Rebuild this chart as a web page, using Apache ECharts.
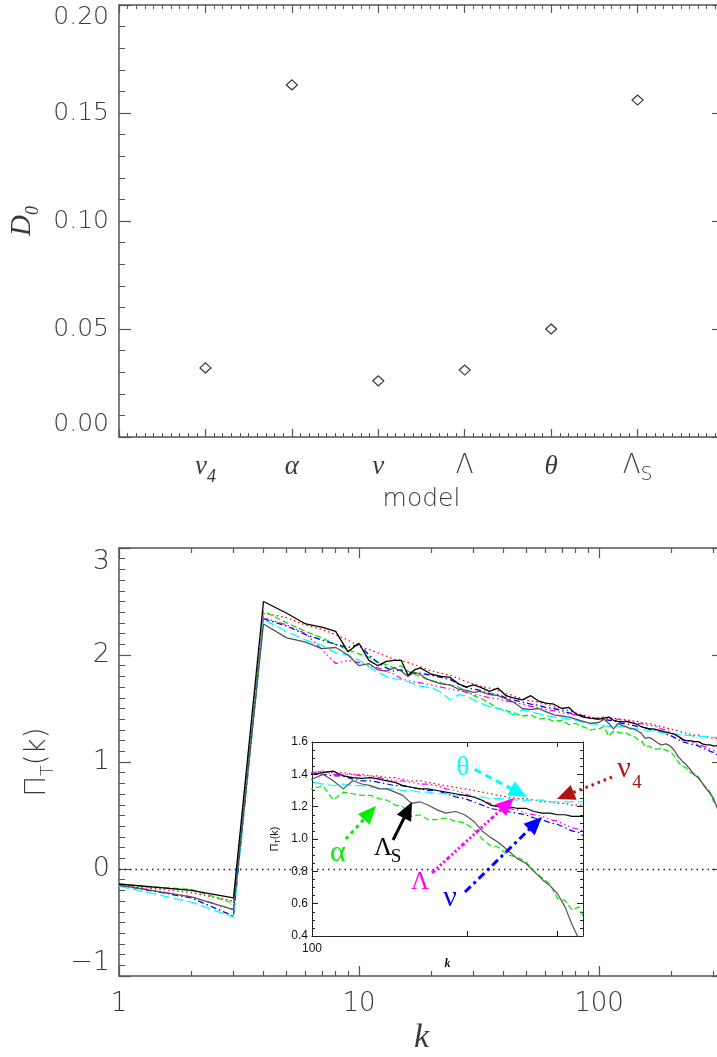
<!DOCTYPE html>
<html><head><meta charset="utf-8">
<script src="https://cdn.jsdelivr.net/npm/echarts@6/dist/echarts.min.js"></script>
<style>html,body{margin:0;padding:0;background:#fff;overflow:hidden}#c{width:717px;height:1057px}</style>
</head><body><div id="c"></div>
<script>
// ---------- data ----------
const modelNames = ['ν','α','ν','Λ','θ','Λ'];
const modelSubs  = ['4','','','','','S'];
const D0 = [0.032, 0.163, 0.026, 0.031, 0.050, 0.156];

const K = [1,2,3,4,5,6,7,8,9,10,11,12,13,14,15,16,17,18,19,20,
  22,24,26,28,30,32,35,38,41,44,48,52,56,60,65,70,75,80,86,92,100,
  105,110,115,120,125,130,135,140,145,150,156,162,168,175,182,190,198,206,214,222,
  230,240,250,260,270,280,290,300,310,320,330,336];

const piNu4 = [-0.15,-0.22,-0.30,2.39,2.35,2.28,2.24,2.19,2.14,2.08,2.05,2.02,1.99,1.96,1.95,1.93,1.91,1.89,1.87,1.85,
  1.83,1.81,1.78,1.75,1.73,1.71,1.69,1.67,1.64,1.62,1.59,1.57,1.56,1.54,1.52,1.50,1.48,1.46,1.44,1.42,1.41,
  1.42,1.41,1.41,1.40,1.40,1.39,1.39,1.38,1.38,1.37,1.36,1.36,1.35,1.34,1.33,1.32,1.31,1.30,1.29,1.28,
  1.27,1.26,1.25,1.25,1.24,1.23,1.23,1.22,1.22,1.21,1.21,1.21];
const piAlpha = [-0.15,-0.19,-0.32,2.41,2.30,2.22,2.16,2.10,2.05,2.01,1.98,1.93,1.91,1.88,1.90,1.85,1.82,1.80,1.78,1.76,
  1.74,1.72,1.70,1.66,1.62,1.60,1.55,1.50,1.48,1.46,1.43,1.44,1.40,1.41,1.38,1.39,1.35,1.36,1.33,1.30,1.31,
  1.33,1.24,1.29,1.28,1.27,1.27,1.25,1.24,1.21,1.20,1.14,1.15,1.12,1.12,1.13,1.11,1.10,1.06,1.00,0.96,
  0.95,0.90,0.89,0.86,0.80,0.76,0.72,0.63,0.62,0.56,0.58,0.52];
const piNu = [-0.15,-0.27,-0.44,2.34,2.27,2.19,2.14,2.10,2.07,2.10,2.00,1.93,1.88,1.85,1.86,1.84,1.83,1.83,1.82,1.81,
  1.79,1.77,1.73,1.70,1.68,1.67,1.64,1.63,1.60,1.58,1.56,1.54,1.53,1.51,1.50,1.48,1.46,1.45,1.43,1.41,1.40,
  1.40,1.39,1.39,1.37,1.36,1.36,1.35,1.34,1.33,1.33,1.32,1.31,1.30,1.30,1.28,1.26,1.25,1.23,1.21,1.19,
  1.18,1.17,1.16,1.15,1.13,1.12,1.10,1.09,1.07,1.05,1.04,1.02];
const piLambda = [-0.15,-0.26,-0.38,2.35,2.28,2.20,2.05,1.92,1.95,1.93,1.90,1.88,1.85,1.82,1.78,1.76,1.75,1.74,1.73,1.72,
  1.70,1.68,1.67,1.65,1.63,1.62,1.60,1.59,1.57,1.56,1.54,1.52,1.51,1.49,1.48,1.46,1.45,1.44,1.42,1.41,1.41,
  1.42,1.40,1.40,1.40,1.39,1.39,1.38,1.37,1.36,1.36,1.35,1.34,1.34,1.33,1.31,1.30,1.28,1.26,1.24,1.22,
  1.20,1.19,1.18,1.16,1.15,1.14,1.12,1.11,1.09,1.07,1.06,1.05];
const piTheta = [-0.16,-0.31,-0.45,2.33,2.22,2.14,2.09,2.02,2.00,1.95,1.89,1.84,1.80,1.78,1.77,1.75,1.73,1.71,1.70,1.70,
  1.65,1.58,1.63,1.62,1.58,1.55,1.52,1.50,1.47,1.44,1.49,1.47,1.45,1.44,1.42,1.41,1.40,1.39,1.37,1.36,1.35,
  1.34,1.33,1.34,1.33,1.33,1.32,1.32,1.31,1.31,1.30,1.30,1.29,1.29,1.28,1.28,1.27,1.27,1.26,1.26,1.25,
  1.25,1.25,1.24,1.24,1.24,1.24,1.23,1.23,1.23,1.23,1.23,1.23];
const piLambdaS = [-0.15,-0.26,-0.38,2.29,2.16,2.12,2.06,2.07,2.00,1.90,1.92,1.86,1.85,1.88,1.85,1.80,1.84,1.82,1.78,1.76,
  1.73,1.72,1.68,1.67,1.65,1.66,1.63,1.62,1.59,1.56,1.50,1.49,1.50,1.47,1.44,1.43,1.42,1.40,1.38,1.36,1.37,
  1.40,1.36,1.31,1.36,1.34,1.33,1.31,1.31,1.29,1.27,1.22,1.23,1.21,1.18,1.16,1.17,1.15,1.11,1.05,1.01,
  0.98,0.93,0.88,0.85,0.80,0.75,0.71,0.66,0.58,0.47,0.38,0.30];
const piRef = [-0.14,-0.20,-0.27,2.50,2.39,2.29,2.26,2.22,2.03,2.11,1.95,1.90,1.94,1.95,1.95,1.81,1.86,1.88,1.85,1.82,
  1.80,1.79,1.73,1.70,1.72,1.70,1.66,1.69,1.62,1.60,1.58,1.62,1.57,1.55,1.54,1.50,1.51,1.45,1.42,1.41,1.40,
  1.41,1.42,1.39,1.38,1.375,1.38,1.37,1.36,1.35,1.33,1.32,1.31,1.31,1.30,1.29,1.28,1.27,1.26,1.24,1.21,
  1.20,1.20,1.19,1.19,1.17,1.16,1.16,1.15,1.15,1.14,1.14,1.14];

const mainTicksMajor = [1,10,100];
const mainTicksMinor = [2,3,4,5,6,7,8,9,20,30,40,50,60,70,80,90,200,300];
const insetTicksLabel = [100];
const insetTicksMinor = [200,300];

// ---------- styling ----------
const SANS = '"DejaVu Sans", "Liberation Sans", sans-serif';
const SERIF = '"Liberation Serif", "DejaVu Serif", serif';
const AX = '#555';
const TXT = '#3a3a3a';
const KMAX_MAIN = 332, KMAX_INSET = 336;

const seriesDefs = [
  {name:'nu4',    data:piNu4,     color:'#FF0000', type:[1.5,3]},
  {name:'alpha',  data:piAlpha,   color:'#00EE00', type:[6,3]},
  {name:'nu',     data:piNu,      color:'#0000FF', type:[6,3,1.5,3]},
  {name:'Lambda', data:piLambda,  color:'#FF00FF', type:[6,3,1.5,3,1.5,3,1.5,3]},
  {name:'theta',  data:piTheta,   color:'#00FFFF', type:[10,4]},
  {name:'LambdaS',data:piLambdaS, color:'#555555', type:'solid'},
  {name:'ref',    data:piRef,     color:'#000000', type:'solid'}
];

const chart = echarts.init(document.getElementById('c'), null, {renderer:'canvas'});

function lineLbl(v){
  const i = Math.round(v) - 1;
  if (i < 0 || i >= modelNames.length) return '';
  const up = modelNames[i] === 'Λ';
  let s = '{' + (up ? 'gn' : 'gi') + '|' + modelNames[i] + '}';
  if (modelSubs[i]) s += '{' + (up ? 'sn' : 'si') + '|' + modelSubs[i] + '}';
  return s;
}

const axLine = {onZero:false, lineStyle:{color:AX, width:1.5}};
const noLine = {show:false, onZero:false};

function logX(grid, min, max, pos, ticks, len, extra){
  return Object.assign({
    gridIndex:grid, type:'log', logBase:10, min:min, max:max, position:pos,
    axisLine: axLine,
    axisTick:{show:true, inside:true, length:len, customValues:ticks, lineStyle:{color:AX, width:1.2}},
    axisLabel:{show:false},
    minorTick:{show:false}, splitLine:{show:false}
  }, extra || {});
}

const xAxes = [
  // 0: top panel bottom
  {gridIndex:0, type:'value', min:0, max:7, interval:1, position:'bottom',
   axisLine:axLine,
   axisTick:{inside:true, length:8, lineStyle:{color:AX, width:1.2}},
   minorTick:{show:true, splitNumber:10, length:4, lineStyle:{color:AX, width:1}},
   splitLine:{show:false},
   axisLabel:{formatter:lineLbl, margin:16, color:TXT,
     rich:{
       gi:{fontFamily:SERIF, fontStyle:'italic', fontSize:27, color:TXT, verticalAlign:'bottom', padding:[0,0,6,0]},
       si:{fontFamily:SERIF, fontStyle:'italic', fontSize:18, color:TXT, verticalAlign:'bottom'},
       gn:{fontFamily:SANS, fontWeight:200, fontSize:26, color:TXT, verticalAlign:'bottom', padding:[0,0,6,0]},
       sn:{fontFamily:SANS, fontWeight:200, fontSize:19, color:TXT, verticalAlign:'bottom'}
     }},
   name:'model', nameLocation:'middle', nameGap:50,
   nameTextStyle:{fontFamily:SANS, fontWeight:200, fontSize:25, color:TXT}},
  // 1: top panel top mirror
  {gridIndex:0, type:'value', min:0, max:7, interval:1, position:'top',
   axisLine:axLine,
   axisTick:{inside:true, length:8, lineStyle:{color:AX, width:1.2}},
   minorTick:{show:true, splitNumber:10, length:4, lineStyle:{color:AX, width:1}},
   splitLine:{show:false}, axisLabel:{show:false}},
  // 2: main bottom major
  logX(1, 1, KMAX_MAIN, 'bottom', mainTicksMajor, 10, {
    axisLabel:{show:true, customValues:mainTicksMajor, margin:15, fontFamily:SANS, fontWeight:200, fontSize:26, color:TXT},
    name:'k', nameLocation:'middle', nameGap:45,
    nameTextStyle:{fontFamily:SERIF, fontStyle:'italic', fontSize:34, color:TXT}}),
  // 3: main bottom minor
  logX(1, 1, KMAX_MAIN, 'bottom', mainTicksMinor, 5, {axisLine:noLine}),
  // 4: main top major
  logX(1, 1, KMAX_MAIN, 'top', mainTicksMajor, 10),
  // 5: main top minor
  logX(1, 1, KMAX_MAIN, 'top', mainTicksMinor, 5, {axisLine:noLine}),
  // 6: inset bottom
  logX(2, 100, KMAX_INSET, 'bottom', insetTicksMinor, 5, {
    axisLine:{onZero:false, lineStyle:{color:'#222', width:1}},
    axisTick:{show:true, inside:true, length:5, customValues:insetTicksMinor, lineStyle:{color:'#222', width:1}},
    axisLabel:{show:true, customValues:insetTicksLabel, margin:7, fontFamily:'"Liberation Sans", Arial, sans-serif', fontSize:12, color:'#111'},
    name:'k', nameLocation:'middle', nameGap:22,
    nameTextStyle:{fontFamily:SERIF, fontStyle:'italic', fontWeight:'bold', fontSize:12, color:'#111'}}),
  // 7: inset top
  logX(2, 100, KMAX_INSET, 'top', insetTicksMinor, 5, {
    axisLine:{onZero:false, lineStyle:{color:'#222', width:1}},
    axisTick:{show:true, inside:true, length:5, customValues:insetTicksMinor, lineStyle:{color:'#222', width:1}}})
];

const yAxes = [
  // 0: top panel left
  {gridIndex:0, type:'value', min:0, max:0.2, interval:0.05, position:'left',
   axisLine:axLine,
   axisTick:{inside:true, length:12, lineStyle:{color:AX, width:1.2}},
   minorTick:{show:true, splitNumber:5, length:6, lineStyle:{color:AX, width:1}},
   splitLine:{show:false},
   axisLabel:{formatter:v=>v.toFixed(2), margin:10, fontFamily:SANS, fontWeight:200, fontSize:25, color:TXT,
     verticalAlignMaxLabel:'top', verticalAlignMinLabel:'bottom'},
   name:'{d|D}{s|0}', nameLocation:'middle', nameGap:74, nameRotate:90,
   nameTextStyle:{rich:{
     d:{fontFamily:SERIF, fontStyle:'italic', fontSize:29, color:TXT, verticalAlign:'bottom', padding:[0,0,6,0]},
     s:{fontFamily:SERIF, fontStyle:'italic', fontSize:18, color:TXT, verticalAlign:'bottom'}}}},
  // 1: top panel right
  {gridIndex:0, type:'value', min:0, max:0.2, interval:0.05, position:'right',
   axisLine:axLine,
   axisTick:{inside:true, length:12, lineStyle:{color:AX, width:1.2}},
   minorTick:{show:true, splitNumber:5, length:6, lineStyle:{color:AX, width:1}},
   splitLine:{show:false}, axisLabel:{show:false}},
  // 2: main left
  {gridIndex:1, type:'value', min:-1, max:3, interval:1, position:'left',
   axisLine:axLine,
   axisTick:{inside:true, length:12, lineStyle:{color:AX, width:1.2}},
   minorTick:{show:true, splitNumber:10, length:6, lineStyle:{color:AX, width:1}},
   splitLine:{show:false},
   axisLabel:{formatter:v=>v<0 ? '\u2212' + Math.abs(v) : String(v), margin:9, fontFamily:SANS, fontWeight:200, fontSize:27, color:TXT,
     verticalAlignMaxLabel:'top', verticalAlignMinLabel:'bottom'},
   name:'{p|Π}{s|T}{p|(k)}', nameLocation:'middle', nameGap:62, nameRotate:90,
   nameTextStyle:{rich:{
     p:{fontFamily:SANS, fontWeight:200, fontSize:28, color:TXT, verticalAlign:'bottom', padding:[0,0,5,0]},
     s:{fontFamily:SANS, fontWeight:200, fontSize:17, color:TXT, verticalAlign:'bottom'}}}},
  // 3: main right
  {gridIndex:1, type:'value', min:-1, max:3, interval:1, position:'right',
   axisLine:axLine,
   axisTick:{inside:true, length:12, lineStyle:{color:AX, width:1.2}},
   minorTick:{show:true, splitNumber:10, length:6, lineStyle:{color:AX, width:1}},
   splitLine:{show:false}, axisLabel:{show:false}},
  // 4: inset left
  {gridIndex:2, type:'value', min:0.4, max:1.6, interval:0.2, position:'left',
   axisLine:{onZero:false, lineStyle:{color:'#222', width:1}},
   axisTick:{inside:true, length:6, lineStyle:{color:'#222', width:1}},
   minorTick:{show:true, splitNumber:4, length:3, lineStyle:{color:'#222', width:1}},
   splitLine:{show:false},
   axisLabel:{formatter:v=>v.toFixed(1), margin:4, fontFamily:'"Liberation Sans", Arial, sans-serif', fontSize:12, color:'#111'},
   name:'{p|Π}{s|T}{p|(k)}', nameLocation:'middle', nameGap:30, nameRotate:90,
   nameTextStyle:{rich:{
     p:{fontFamily:'"Liberation Sans", Arial, sans-serif', fontSize:11, color:'#111', verticalAlign:'bottom', padding:[0,0,2,0]},
     s:{fontFamily:'"Liberation Sans", Arial, sans-serif', fontSize:7, color:'#111', verticalAlign:'bottom'}}}},
  // 5: inset right
  {gridIndex:2, type:'value', min:0.4, max:1.6, interval:0.2, position:'right',
   axisLine:{onZero:false, lineStyle:{color:'#222', width:1}},
   axisTick:{inside:true, length:6, lineStyle:{color:'#222', width:1}},
   minorTick:{show:true, splitNumber:4, length:3, lineStyle:{color:'#222', width:1}},
   splitLine:{show:false}, axisLabel:{show:false}}
];

const series = [];
series.push({
  type:'scatter', xAxisIndex:0, yAxisIndex:0,
  data: D0.map((d,i)=>[i+1, d]),
  symbol:'diamond', symbolSize:[11,10],
  itemStyle:{color:'#fff', borderColor:'#000', borderWidth:1.2}, silent:true
});
seriesDefs.forEach((s, idx) => {
  const pts = K.map((k,i)=>[k, s.data[i]]);
  const main = {
    type:'line', xAxisIndex:2, yAxisIndex:2, data:pts, showSymbol:false, symbol:'none',
    lineStyle:{color:s.color, width:1.3, type:s.type}, silent:true, clip:true, z:2+idx
  };
  if (idx === 0) {
    main.markLine = {silent:true, symbol:'none', label:{show:false},
      lineStyle:{color:'#222', width:1.3, type:[1.5,4]}, data:[{yAxis:0}]};
  }
  series.push(main);
  series.push({
    type:'line', xAxisIndex:6, yAxisIndex:4, data:pts, showSymbol:false, symbol:'none',
    lineStyle:{color:s.color, width:1.2, type:s.type}, silent:true, clip:true, z:2+idx
  });
});

chart.setOption({
  animation:false,
  backgroundColor:'#fff',
  grid:[
    {left:119, top:5, width:605, height:432, outerBoundsMode:'none', containLabel:false},
    {left:119, top:548, width:605, height:428, outerBoundsMode:'none', containLabel:false},
    {left:312, top:742, width:271, height:194, outerBoundsMode:'none', containLabel:false}
  ],
  xAxis:xAxes, yAxis:yAxes, series:series
});

// ---------- annotations in the inset (data coordinates of the inset axes) ----------
const annots = [
  {text:'θ', color:'#00FFFF', size:27, at:[196.5,1.439], from:[207,1.431], to:[261.5,1.260], dash:[7,5]},
  {text:'ν', sub:'4', color:'#B01515', size:30, at:[403.6,1.433], subAt:[427.6,1.346], from:[382.5,1.383], to:[299,1.247], dash:[2.5,4]},
  {text:'α', color:'#00EE00', size:30, at:[112.3,0.913], from:[116.4,1.0], to:[133.1,1.204], dash:[3.5,4]},
  {text:'Λ', sub:'S', color:'#000000', size:25, at:[137.4,0.944], subAt:[145.6,0.889], from:[143.7,0.994], to:[156.4,1.229], dash:null},
  {text:'Λ', color:'#FF00FF', size:25, at:[162.1,0.734], from:[171,0.790], to:[246.7,1.254], dash:[4,2.5,2,2.5,2,2.5,2,2.5]},
  {text:'ν', color:'#0000FF', size:30, at:[185.3,0.635], from:[198.2,0.672], to:[279.7,1.136], dash:[8,4,3,4]}
];
const finder = {xAxisIndex:6, yAxisIndex:4};
const gfx = [];
annots.forEach(a => {
  const p0 = chart.convertToPixel(finder, a.from);
  const p1 = chart.convertToPixel(finder, a.to);
  const dx = p1[0]-p0[0], dy = p1[1]-p0[1];
  const L = Math.sqrt(dx*dx+dy*dy), ux = dx/L, uy = dy/L;
  const hl = 18, hw = 8;
  const bx = p1[0]-ux*hl, by = p1[1]-uy*hl;
  gfx.push({type:'polyline', z:100, silent:true,
    shape:{points:[p0,[bx+ux*2,by+uy*2]]},
    style:{stroke:a.color, lineWidth:3, lineDash:a.dash || null, fill:null}});
  gfx.push({type:'polygon', z:100, silent:true,
    shape:{points:[p1,[bx-uy*hw,by+ux*hw],[bx+uy*hw,by-ux*hw]]},
    style:{fill:a.color, stroke:null}});
  const pt = chart.convertToPixel(finder, a.at);
  gfx.push({type:'text', z:100, silent:true, x:pt[0], y:pt[1],
    style:{text:a.text, fill:a.color, font:a.size+'px '+SERIF, align:'center', verticalAlign:'middle'}});
  if (a.sub) {
    const ps = chart.convertToPixel(finder, a.subAt);
    gfx.push({type:'text', z:100, silent:true, x:ps[0], y:ps[1],
      style:{text:a.sub, fill:a.color, font:'19px '+SERIF, align:'center', verticalAlign:'middle'}});
  }
});
chart.setOption({graphic:gfx});
</script>
</body></html>
